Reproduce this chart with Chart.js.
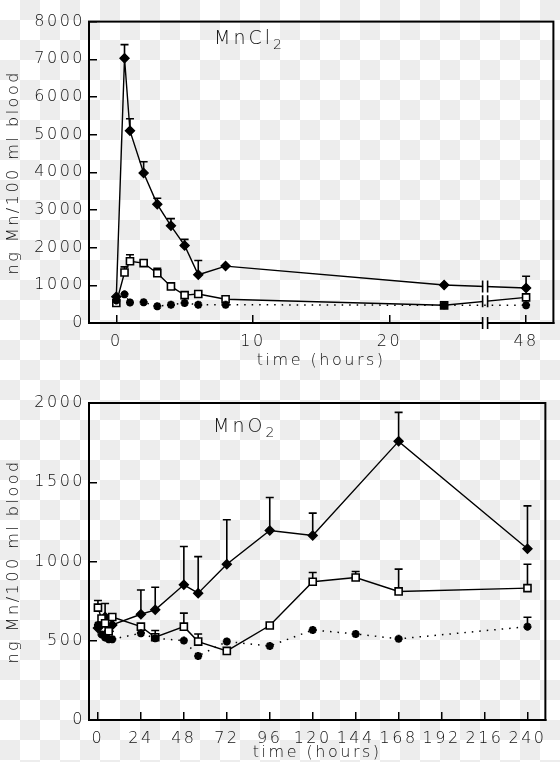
<!DOCTYPE html>
<html>
<head>
<meta charset="utf-8">
<script src="https://cdn.jsdelivr.net/npm/chart.js@4.4.1/dist/chart.umd.min.js"></script>
<style>
  html, body { margin: 0; padding: 0; }
  body {
    width: 560px; height: 762px; position: relative; overflow: hidden;
    background-color: #fff;
    background-image: conic-gradient(#ededed 25%, transparent 0 50%, #ededed 0 75%, transparent 0);
    background-size: 40px 40px;
  }
  .box { position: absolute; left: 0; width: 560px; }
</style>
</head>
<body>
<div class="box" style="top:0;height:380px"><canvas id="chartCl" width="560" height="380"></canvas></div>
<div class="box" style="top:380px;height:382px"><canvas id="chartO2" width="560" height="382"></canvas></div>
<script>
// --- MnCl2 panel (time in hours, 48 h is drawn past an axis break) ---
const hoursCl = [0, 0.6, 1, 2, 3, 4, 5, 6, 8, 24, 48];
const clDiamond    = [700, 7030, 5100, 3980, 3150, 2580, 2060, 1280, 1510, 1010, 930];
const clDiamondErr = [null, 7390, 5420, 4280, 3310, 2770, 2220, 1660, null, null, 1240];
const clSquare     = [530, 1340, 1640, 1590, 1320, 970, 740, 770, 630, 470, 680];
const clSquareErr  = [null, 1490, 1810, null, 1450, null, null, null, null, null, null];
const clStar       = [600, 760, 545, 550, 445, 485, 530, 485, 485, 470, 470];
const clTicks = [0, 10, 20, 48];

// --- MnO2 panel ---
const hoursO2 = [0, 2, 4, 6, 8, 24, 32, 48, 56, 72, 96, 120, 144, 168, 240];
const o2Diamond    = [580, 610, 650, 560, 600, 667, 695, 853, 800, 983, 1196, 1164, null, 1758, 1080];
const o2DiamondErr = [null, null, null, null, null, 820, 838, 1095, 1031, 1263, 1404, 1305, null, 1941, 1351];
const o2Square     = [709, 640, 610, 560, 650, 589, 522, 589, 495, 436, 596, 872, 899, 811, 832];
const o2SquareErr  = [754, null, 735, null, null, null, null, 674, 543, null, null, 931, 937, 952, 983];
const o2Star       = [600, 540, 520, 510, 510, 547, 516, 501, 404, 495, 467, 568, 543, 512, 589];
const o2StarErr    = [null, null, null, null, null, null, 565, null, null, null, null, null, null, null, 648];
const o2Ticks = [0, 24, 48, 72, 96, 120, 144, 168, 192, 216, 240];

// hours after 24 are squeezed 4x so 48 h lands just past the break
const squeeze = h => h <= 24 ? h : 24 + (h - 24) / 4;
const BREAK_AT = 27;

Chart.defaults.font.family = "'DejaVu Sans', sans-serif";
Chart.defaults.font.size = 16;
Chart.defaults.font.weight = '200';
Chart.defaults.color = '#111';
Chart.defaults.animation = false;

const toPoints = (hours, vals, fx) => hours.map((h, i) => ({ x: fx ? fx(h) : h, y: vals[i] }));

function diamondSet(data, err) {
  return { data, errTop: err, pointStyle: 'rectRot', pointRadius: 4.5,
    backgroundColor: '#000', borderColor: '#000', borderWidth: 1.4, spanGaps: true };
}
function squareSet(data, err) {
  return { data, errTop: err, pointStyle: 'rect', pointRadius: 5,
    backgroundColor: '#fff', pointBackgroundColor: '#fff', borderColor: '#000',
    pointBorderWidth: 1.6, borderWidth: 1.4 };
}
function starSet(data, err) {
  return { data, errTop: err, pointStyle: 'star', pointRadius: 4,
    borderColor: '#000', backgroundColor: '#000', pointBorderWidth: 2.5,
    borderWidth: 1.5, borderDash: [1.5, 6] };
}

// spacing of the plotter-like lettering
const spacing = {
  id: 'spacing',
  beforeDraw(chart) { chart.ctx.letterSpacing = '2.5px'; }
};

// box around the plot
const frame = {
  id: 'frame',
  afterDraw(chart) {
    const { ctx, chartArea: a } = chart;
    ctx.save();
    ctx.strokeStyle = '#000';
    ctx.lineWidth = 2;
    ctx.strokeRect(a.left, a.top, a.right - a.left, a.bottom - a.top);
    ctx.restore();
  }
};

// upper error bars with caps
const errorBars = {
  id: 'errorBars',
  beforeDatasetsDraw(chart) {
    const { ctx, scales: { y } } = chart;
    ctx.save();
    ctx.strokeStyle = '#000';
    ctx.lineWidth = 1.6;
    chart.data.datasets.forEach((ds, i) => {
      if (!ds.errTop) return;
      const meta = chart.getDatasetMeta(i);
      ds.errTop.forEach((e, j) => {
        if (e == null || ds.data[j].y == null) return;
        const p = meta.data[j];
        const pe = y.getPixelForValue(e);
        ctx.beginPath();
        ctx.moveTo(p.x, p.y);
        ctx.lineTo(p.x, pe);
        ctx.moveTo(p.x - 4, pe);
        ctx.lineTo(p.x + 4, pe);
        ctx.stroke();
      });
    });
    ctx.restore();
  }
};

// "||" marks where the time axis is broken
const axisBreak = {
  id: 'axisBreak',
  afterDraw(chart) {
    const { ctx, chartArea: a, scales: { x, y } } = chart;
    const xb = x.getPixelForValue(BREAK_AT);
    const marks = [a.bottom];
    chart.data.datasets.forEach(ds => {
      if (!ds.breakMark) return;
      const pts = ds.data;
      for (let k = 1; k < pts.length; k++) {
        if (pts[k - 1].x <= BREAK_AT && pts[k].x >= BREAK_AT) {
          const f = (BREAK_AT - pts[k - 1].x) / (pts[k].x - pts[k - 1].x);
          marks.push(y.getPixelForValue(pts[k - 1].y + f * (pts[k].y - pts[k - 1].y)));
        }
      }
    });
    ctx.save();
    ctx.fillStyle = '#fff';
    ctx.strokeStyle = '#000';
    ctx.lineWidth = 1.6;
    marks.forEach(my => {
      ctx.fillRect(xb - 2, my - 2, 4, 4);
      ctx.beginPath();
      ctx.moveTo(xb - 2.5, my - 6); ctx.lineTo(xb - 2.5, my + 6);
      ctx.moveTo(xb + 2.5, my - 6); ctx.lineTo(xb + 2.5, my + 6);
      ctx.stroke();
    });
    ctx.restore();
  }
};

// compound name inside the plot
const panelLabel = {
  id: 'panelLabel',
  afterDraw(chart, args, opts) {
    const ctx = chart.ctx;
    ctx.save();
    ctx.fillStyle = '#111';
    ctx.letterSpacing = '3px';
    ctx.textBaseline = 'alphabetic';
    ctx.font = "200 19px 'DejaVu Sans'";
    ctx.fillText(opts.text, opts.x, opts.y);
    const w = ctx.measureText(opts.text).width;
    ctx.font = "200 14px 'DejaVu Sans'";
    ctx.fillText(opts.sub, opts.x + w, opts.y + 5);
    ctx.restore();
  }
};

function axes(cfg) {
  return {
    x: {
      type: 'linear', min: cfg.xMin, max: cfg.xMax,
      afterBuildTicks: s => { s.ticks = cfg.xTicks.map(v => ({ value: v })); },
      afterFit: s => { s.height = cfg.xHeight; },
      ticks: { callback: (v, i) => cfg.xLabels[i], padding: 17, maxRotation: 0, autoSkip: false },
      grid: { drawOnChartArea: false, tickLength: -8, color: '#000', lineWidth: 1.5 },
      border: { color: '#000', width: 2 },
      title: { display: true, text: 'time (hours)', padding: { top: 0, bottom: cfg.xTitlePad } }
    },
    y: {
      min: 0, max: cfg.yMax,
      afterFit: s => { s.width = 89; },
      ticks: { stepSize: cfg.yStep, callback: v => String(v), padding: 12 },
      grid: { drawOnChartArea: false, tickLength: -8, color: '#000', lineWidth: 1.5 },
      border: { color: '#000', width: 2 },
      title: { display: true, text: 'ng Mn/100 ml blood' }
    }
  };
}

const clDiamondSet = diamondSet(toPoints(hoursCl, clDiamond, squeeze), clDiamondErr);
clDiamondSet.breakMark = true;
const clSquareSet = squareSet(toPoints(hoursCl, clSquare, squeeze), clSquareErr);
clSquareSet.breakMark = true;

new Chart(document.getElementById('chartCl'), {
  type: 'line',
  data: {
    datasets: [
      starSet(toPoints(hoursCl, clStar, squeeze), null),
      clSquareSet,
      clDiamondSet
    ]
  },
  options: {
    responsive: false,
    layout: { padding: { top: 5, right: 4, left: 0, bottom: 0 } },
    scales: axes({ xMin: -2, xMax: 32, xTicks: clTicks.map(squeeze), xLabels: clTicks,
      xHeight: 57, xTitlePad: 10, yMax: 8000, yStep: 1000 }),
    plugins: {
      legend: { display: false }, tooltip: { enabled: false },
      panelLabel: { text: 'MnCl', sub: '2', x: 214, y: 44 }
    }
  },
  plugins: [spacing, errorBars, frame, axisBreak, panelLabel]
});

new Chart(document.getElementById('chartO2'), {
  type: 'line',
  data: {
    datasets: [
      starSet(toPoints(hoursO2, o2Star), o2StarErr),
      squareSet(toPoints(hoursO2, o2Square), o2SquareErr),
      diamondSet(toPoints(hoursO2, o2Diamond), o2DiamondErr)
    ]
  },
  options: {
    responsive: false,
    layout: { padding: { top: 23, right: 3, left: 0, bottom: 0 } },
    scales: axes({ xMin: -5, xMax: 250, xTicks: o2Ticks, xLabels: o2Ticks,
      xHeight: 42, xTitlePad: 0, yMax: 2000, yStep: 500 }),
    plugins: {
      legend: { display: false }, tooltip: { enabled: false },
      panelLabel: { text: 'MnO', sub: '2', x: 213, y: 52 }
    }
  },
  plugins: [spacing, errorBars, frame, panelLabel]
});
</script>
</body>
</html>
